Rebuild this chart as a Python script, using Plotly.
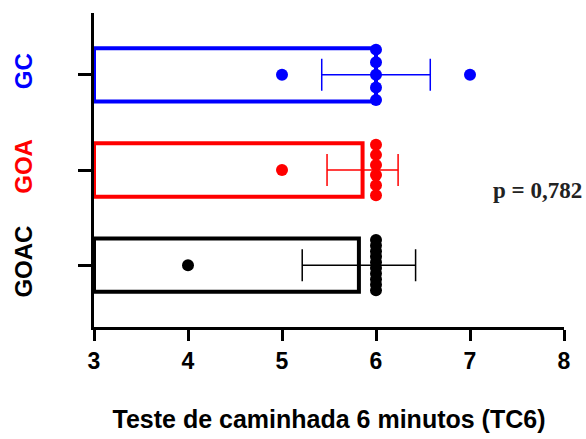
import numpy as np
import plotly.graph_objects as go

groups = ["GOAC", "GOA", "GC"]
colors = ["#000000", "#FF0000", "#0000FF"]
values = {
    "GOAC": [4] + [6] * 10,
    "GOA": [5] + [6] * 6,
    "GC": [5, 7] + [6] * 5,
}
x_ticks = [3, 4, 5, 6, 7, 8]
x_title = "Teste de caminhada 6 minutos (TC6)"
p_text = "p = 0,782"

fig = go.Figure()
for i, (g, c) in enumerate(zip(groups, colors)):
    v = np.array(values[g], dtype=float)
    mean = v.mean()
    sd = v.std(ddof=1)
    fig.add_trace(go.Bar(
        x=[mean - 3], y=[i], base=3, orientation="h", width=0.56,
        marker=dict(color="rgba(255,255,255,0)", line=dict(color=c, width=4)),
        showlegend=False, hoverinfo="skip",
    ))
    xs, ys = [], []
    for val in sorted(set(v)):
        k = int((v == val).sum())
        offs = np.linspace(-0.265, 0.265, k) if k > 1 else np.array([0.0])
        xs += [val] * k
        ys += list(i + offs)
    fig.add_trace(go.Scatter(
        x=xs, y=ys, mode="markers",
        marker=dict(color=c, size=12, line=dict(width=0)),
        showlegend=False, hoverinfo="skip",
    ))
    fig.add_trace(go.Scatter(
        x=[mean], y=[i], mode="markers",
        marker=dict(size=0.1, color=c, opacity=0),
        error_x=dict(type="data", array=[sd], visible=True, color=c,
                     thickness=1.5, width=16),
        showlegend=False, hoverinfo="skip",
    ))

ticktext = [f'<span style="color:{c}"><b>{g}</b></span>' for g, c in zip(groups, colors)]

ML, MR, MT, MB = 94, 22, 13, 112
fig.update_layout(
    width=586, height=439,
    margin=dict(l=ML, r=MR, t=MT, b=MB, autoexpand=False),
    paper_bgcolor="white", plot_bgcolor="white",
    font=dict(family="Liberation Sans, Arial", color="black"),
    xaxis=dict(
        range=[3, 8], tickvals=x_ticks, ticktext=[f"<b>{t}</b>" for t in x_ticks],
        showline=True, linecolor="black", linewidth=3,
        ticks="outside", ticklen=11, tickwidth=3, tickcolor="black",
        showgrid=False, zeroline=False, automargin=False,
        tickfont=dict(size=23, family="Liberation Sans, Arial"),
        title=dict(text=f"<b>{x_title}</b>", font=dict(size=25), standoff=38),
    ),
    yaxis=dict(
        range=[-0.65, 2.65], tickvals=[0, 1, 2], ticktext=ticktext,
        showline=True, linecolor="black", linewidth=3,
        ticks="outside", ticklen=13, tickwidth=3, tickcolor="black",
        showgrid=False, zeroline=False, tickangle=-90, automargin=False,
        tickfont=dict(size=24, family="Liberation Sans, Arial"),
        ticklabelstandoff=36,
    ),
)
pw, ph = 586 - ML - MR, 439 - MT - MB
fig.add_annotation(
    x=(537 - ML) / pw, y=(439 - MB - 190) / ph, xref="paper", yref="paper",
    xanchor="center", yanchor="middle", text=f"<b>{p_text}</b>",
    showarrow=False, font=dict(family="Liberation Serif, Times New Roman", size=23, color="#222222"),
)

fig.write_html("out.html")
